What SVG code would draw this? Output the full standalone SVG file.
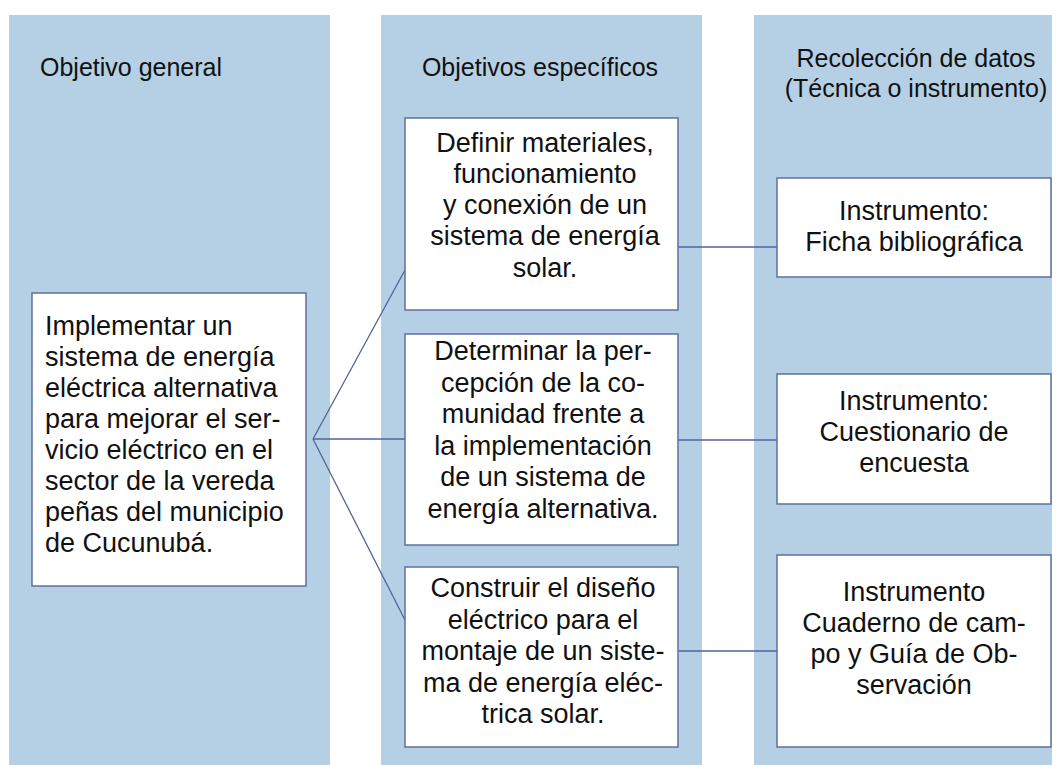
<svg xmlns="http://www.w3.org/2000/svg" width="1060" height="765" viewBox="0 0 1060 765">
<style>
.col{fill:#b5d0e4;}
.box{fill:#ffffff;stroke:#5f6f9f;stroke-width:1.5;}
.con{stroke:#53639a;stroke-width:1.3;fill:none;}
.hd{font-family:"Liberation Sans",Arial,sans-serif;font-size:25px;fill:#111111;}
.tx{font-family:"Liberation Sans",Arial,sans-serif;font-size:27px;fill:#111111;}
.c{text-anchor:middle;}
</style>
<rect width="1060" height="765" fill="#ffffff"/>
<g id="columns">
<rect class="col" x="9" y="15" width="321" height="750"/>
<rect class="col" x="381" y="15" width="321" height="750"/>
<rect class="col" x="754" y="15" width="298" height="750"/>
</g>
<g id="headers">
<text class="hd" x="40" y="76">Objetivo general</text>
<text class="hd c" x="540" y="76">Objetivos específicos</text>
<text class="hd c" x="916" y="67">Recolección de datos</text>
<text class="hd c" x="916" y="97">(Técnica o instrumento)</text>
</g>
<g id="connectors">
<line class="con" x1="313" y1="439" x2="405" y2="270"/>
<line class="con" x1="313" y1="439" x2="405" y2="439"/>
<line class="con" x1="313" y1="439" x2="405" y2="620"/>
<line class="con" x1="678" y1="247" x2="777" y2="247"/>
<line class="con" x1="678" y1="440" x2="777" y2="440"/>
<line class="con" x1="678" y1="651" x2="777" y2="651"/>
</g>
<g id="general">
<rect class="box" x="32" y="293" width="274" height="293"/>
<text class="tx" x="45" y="335">Implementar un</text>
<text class="tx" x="45" y="366">sistema de energía</text>
<text class="tx" x="45" y="397">eléctrica alternativa</text>
<text class="tx" x="45" y="428">para mejorar el ser-</text>
<text class="tx" x="45" y="459">vicio eléctrico en el</text>
<text class="tx" x="45" y="490">sector de la vereda</text>
<text class="tx" x="45" y="521">peñas del municipio</text>
<text class="tx" x="45" y="552">de Cucunubá.</text>
</g>
<g id="especifico1">
<rect class="box" x="405" y="118" width="273" height="192"/>
<text class="tx c" x="545" y="152">Definir materiales,</text>
<text class="tx c" x="545" y="183">funcionamiento</text>
<text class="tx c" x="545" y="214">y conexión de un</text>
<text class="tx c" x="545" y="245">sistema de energía</text>
<text class="tx c" x="545" y="277">solar.</text>
</g>
<g id="especifico2">
<rect class="box" x="405" y="334" width="273" height="211"/>
<text class="tx c" x="543" y="360">Determinar la per-</text>
<text class="tx c" x="543" y="391.5">cepción de la co-</text>
<text class="tx c" x="543" y="423">munidad frente a</text>
<text class="tx c" x="543" y="454.5">la implementación</text>
<text class="tx c" x="543" y="486">de un sistema de</text>
<text class="tx c" x="543" y="517.5">energía alternativa.</text>
</g>
<g id="especifico3">
<rect class="box" x="405" y="567" width="273" height="180"/>
<text class="tx c" x="543" y="597">Construir el diseño</text>
<text class="tx c" x="543" y="628.5">eléctrico para el</text>
<text class="tx c" x="543" y="660">montaje de un siste-</text>
<text class="tx c" x="543" y="691.5">ma de energía eléc-</text>
<text class="tx c" x="543" y="723">trica solar.</text>
</g>
<g id="instrumento1">
<rect class="box" x="777" y="178" width="274" height="99"/>
<text class="tx c" x="914" y="220">Instrumento:</text>
<text class="tx c" x="914" y="251">Ficha bibliográfica</text>
</g>
<g id="instrumento2">
<rect class="box" x="777" y="374" width="274" height="130"/>
<text class="tx c" x="914" y="410">Instrumento:</text>
<text class="tx c" x="914" y="441">Cuestionario de</text>
<text class="tx c" x="914" y="472">encuesta</text>
</g>
<g id="instrumento3">
<rect class="box" x="777" y="555" width="274" height="192"/>
<text class="tx c" x="914" y="601">Instrumento</text>
<text class="tx c" x="914" y="632">Cuaderno de cam-</text>
<text class="tx c" x="914" y="663">po y Guía de Ob-</text>
<text class="tx c" x="914" y="694">servación</text>
</g>
</svg>
